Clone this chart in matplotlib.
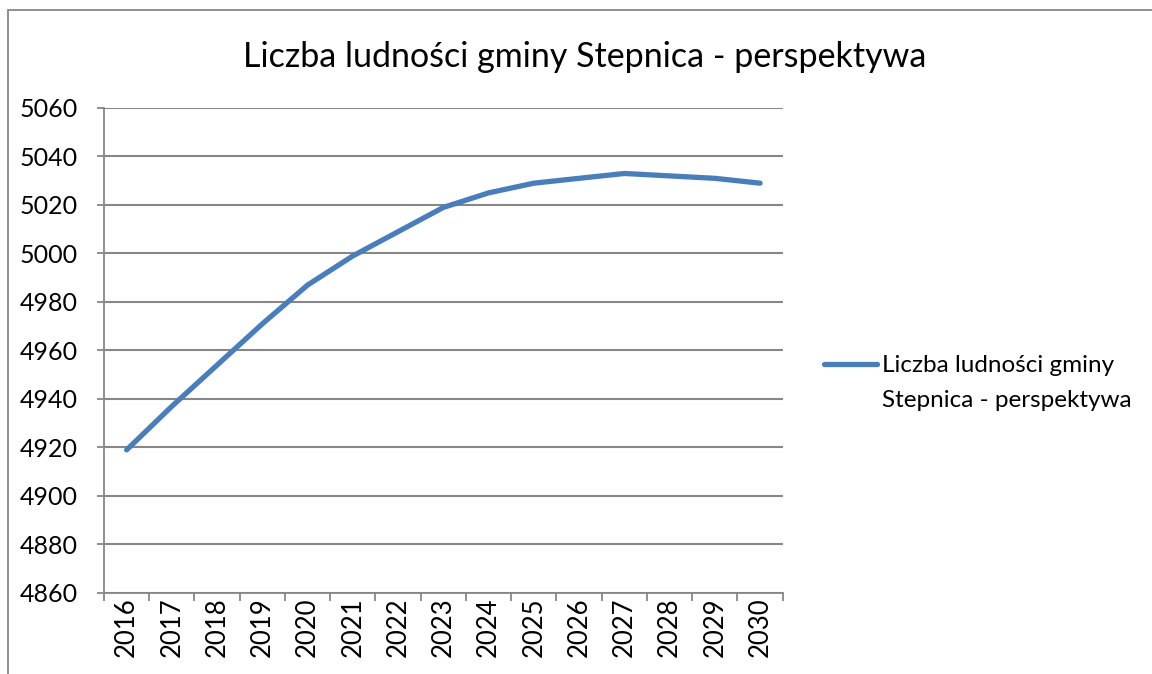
import matplotlib
matplotlib.use("Agg")
from matplotlib import pyplot as plt
from matplotlib.patches import Rectangle
from matplotlib.lines import Line2D

plt.rcParams['font.family'] = ['Lato', 'DejaVu Sans']

years = ["2016", "2017", "2018", "2019", "2020", "2021", "2022", "2023",
         "2024", "2025", "2026", "2027", "2028", "2029", "2030"]
population = [4919, 4937, 4954, 4971, 4987, 4999, 5009, 5019,
              5025, 5029, 5031, 5033, 5032, 5031, 5029]
y_ticks = [4860, 4880, 4900, 4920, 4940, 4960, 4980, 5000, 5020, 5040, 5060]
series_name = "Liczba ludności gminy\nStepnica - perspektywa"
title = "Liczba ludności gminy Stepnica - perspektywa"

grey = '#878787'
blue = '#4A7EBB'

fig = plt.figure(figsize=(11.52, 6.74), dpi=100)
W, H = 1152, 674

# outer chart border (only left and top are visible in the crop)
fig.patches.append(Rectangle((8 / W, -0.1), 1.2, 1 - 9.5 / H + 0.1,
                             transform=fig.transFigure, fill=False,
                             edgecolor=grey, linewidth=1.3))

ax = fig.add_axes([104 / W, 1 - 593 / H, (782.7 - 104) / W, (593 - 108) / H])

x = range(len(years))
ax.plot(x, population, color=blue, linewidth=3.8,
        solid_capstyle='round', solid_joinstyle='round')

ax.set_xlim(-0.5, len(years) - 0.5)
ax.set_ylim(4860, 5060)
ax.set_yticks(y_ticks)
ax.set_yticklabels([str(v) for v in y_ticks], fontsize=18)
ax.yaxis.grid(True, color=grey, linewidth=1.5)
ax.set_axisbelow(True)

# category ticks sit on the band edges, labels in the band centres
ax.set_xticks([i - 0.5 for i in range(len(years) + 1)])
ax.set_xticklabels([])
ax.set_xticks(list(x), minor=True)
ax.set_xticklabels(years, minor=True, rotation=90, fontsize=18.5)
ax.tick_params(axis='x', which='minor', length=0, pad=3)
ax.tick_params(axis='x', which='major', length=6, color=grey, width=1.3)
ax.tick_params(axis='y', length=5, color=grey, width=1.3, pad=14)

for s in ['top', 'right']:
    ax.spines[s].set_visible(False)
for s in ['left', 'bottom']:
    ax.spines[s].set_color(grey)
    ax.spines[s].set_linewidth(1.3)

fig.text(584.5 / W, 1 - 57 / H, title, ha='center', va='center', fontsize=24.5)

# legend: handle aligned with the first line of the label, as in the original
fig.add_artist(Line2D([824 / W, 877 / W], [1 - 364 / H, 1 - 364 / H],
                      transform=fig.transFigure, color=blue, linewidth=3.8,
                      solid_capstyle='round'))
fig.text(882 / W, 1 - 355 / H, series_name, ha='left', va='top',
         fontsize=17.5, linespacing=1.8)

plt.savefig('out.png', dpi=100)
